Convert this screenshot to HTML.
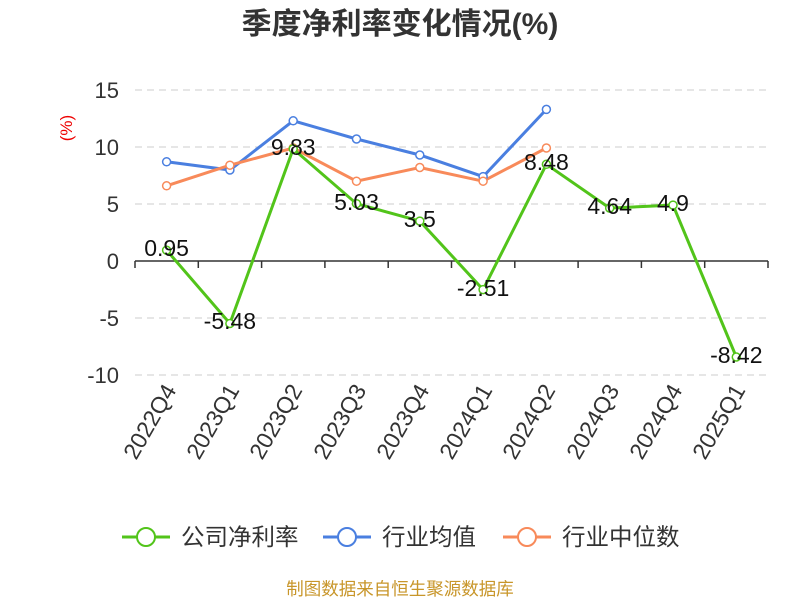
<!DOCTYPE html>
<html><head><meta charset="utf-8"><style>
body{margin:0;background:#fff;}
svg{display:block;font-family:"Liberation Sans","Noto Sans CJK SC",sans-serif;}
</style></head><body>
<svg width="800" height="600" viewBox="0 0 800 600">
<text x="400" y="34" text-anchor="middle" font-size="30" font-weight="bold" fill="#333">季度净利率变化情况(%)</text>
<text x="72" y="128" text-anchor="middle" font-size="17" fill="#e00" transform="rotate(-90 72 128)">(%)</text>
<g stroke="#ccc" stroke-dasharray="7,5" stroke-width="1">
<line x1="135" y1="90" x2="768" y2="90"/><line x1="135" y1="147" x2="768" y2="147"/>
<line x1="135" y1="204" x2="768" y2="204"/><line x1="135" y1="318" x2="768" y2="318"/>
<line x1="135" y1="375" x2="768" y2="375"/>
</g>
<line x1="135" y1="261" x2="768" y2="261" stroke="#333" stroke-width="1.5"/>
<g stroke="#333" stroke-width="1.5">
<line x1="135" y1="261" x2="135" y2="268"/><line x1="198.3" y1="261" x2="198.3" y2="268"/><line x1="261.6" y1="261" x2="261.6" y2="268"/><line x1="324.9" y1="261" x2="324.9" y2="268"/><line x1="388.2" y1="261" x2="388.2" y2="268"/><line x1="451.5" y1="261" x2="451.5" y2="268"/><line x1="514.8" y1="261" x2="514.8" y2="268"/><line x1="578.1" y1="261" x2="578.1" y2="268"/><line x1="641.4" y1="261" x2="641.4" y2="268"/><line x1="704.7" y1="261" x2="704.7" y2="268"/><line x1="768" y1="261" x2="768" y2="268"/>
</g>
<g font-size="22" fill="#333" text-anchor="end">
<text x="119" y="98">15</text><text x="119" y="155">10</text><text x="119" y="212">5</text><text x="119" y="269">0</text><text x="119" y="326">-5</text><text x="119" y="383">-10</text>
</g>
<g font-size="23" fill="#333" text-anchor="end">
<text transform="translate(177,390) rotate(-60)">2022Q4</text>
<text transform="translate(240,390) rotate(-60)">2023Q1</text>
<text transform="translate(303,390) rotate(-60)">2023Q2</text>
<text transform="translate(367,390) rotate(-60)">2023Q3</text>
<text transform="translate(430,390) rotate(-60)">2023Q4</text>
<text transform="translate(493,390) rotate(-60)">2024Q1</text>
<text transform="translate(556,390) rotate(-60)">2024Q2</text>
<text transform="translate(620,390) rotate(-60)">2024Q3</text>
<text transform="translate(683,390) rotate(-60)">2024Q4</text>
<text transform="translate(746,390) rotate(-60)">2025Q1</text>
</g>
<g fill="none" stroke-width="3">
<polyline stroke="#4a7fe0" points="166.6,161.8 229.9,170 293.2,120.8 356.5,139 419.8,155 483.1,176.6 546.4,109.4"/>
<polyline stroke="#f88a5a" points="166.6,185.8 229.9,165.2 293.2,148 356.5,181.2 419.8,167.5 483.1,181.2 546.4,148"/>
<polyline stroke="#52c41a" points="166.6,250.2 229.9,323.5 293.2,148.9 356.5,203.7 419.8,221.1 483.1,289.6 546.4,164.3 609.7,208.1 673,205.1 736.3,357"/>
</g>
<g fill="#fff" stroke-width="1.5">
<g stroke="#4a7fe0"><circle cx="166.6" cy="161.8" r="4"/><circle cx="229.9" cy="170" r="4"/><circle cx="293.2" cy="120.8" r="4"/><circle cx="356.5" cy="139" r="4"/><circle cx="419.8" cy="155" r="4"/><circle cx="483.1" cy="176.6" r="4"/><circle cx="546.4" cy="109.4" r="4"/></g>
<g stroke="#f88a5a"><circle cx="166.6" cy="185.8" r="4"/><circle cx="229.9" cy="165.2" r="4"/><circle cx="293.2" cy="148" r="4"/><circle cx="356.5" cy="181.2" r="4"/><circle cx="419.8" cy="167.5" r="4"/><circle cx="483.1" cy="181.2" r="4"/><circle cx="546.4" cy="148" r="4"/></g>
<g stroke="#52c41a"><circle cx="166.6" cy="250.2" r="4"/><circle cx="229.9" cy="323.5" r="4"/><circle cx="293.2" cy="148.9" r="4"/><circle cx="356.5" cy="203.7" r="4"/><circle cx="419.8" cy="221.1" r="4"/><circle cx="483.1" cy="289.6" r="4"/><circle cx="546.4" cy="164.3" r="4"/><circle cx="609.7" cy="208.1" r="4"/><circle cx="673" cy="205.1" r="4"/><circle cx="736.3" cy="357" r="4"/></g>
</g>
<g font-size="23" fill="#111" text-anchor="middle">
<text x="166.6" y="256">0.95</text><text x="229.9" y="329">-5.48</text><text x="293.2" y="155">9.83</text><text x="356.5" y="210">5.03</text><text x="419.8" y="227">3.5</text><text x="483.1" y="296">-2.51</text><text x="546.4" y="170">8.48</text><text x="609.7" y="214">4.64</text><text x="673" y="211">4.9</text><text x="736.3" y="363">-8.42</text>
</g>
<g font-size="23.5" fill="#333">
<line x1="122" y1="537" x2="170" y2="537" stroke="#52c41a" stroke-width="3"/><circle cx="146" cy="537" r="9" fill="#fff" stroke="#52c41a" stroke-width="2"/>
<text x="181" y="545">公司净利率</text>
<line x1="323" y1="537" x2="371" y2="537" stroke="#4a7fe0" stroke-width="3"/><circle cx="347" cy="537" r="9" fill="#fff" stroke="#4a7fe0" stroke-width="2"/>
<text x="382" y="545">行业均值</text>
<line x1="503" y1="537" x2="551" y2="537" stroke="#f88a5a" stroke-width="3"/><circle cx="527" cy="537" r="9" fill="#fff" stroke="#f88a5a" stroke-width="2"/>
<text x="562" y="545">行业中位数</text>
</g>
<text x="400" y="595" text-anchor="middle" font-size="17.5" fill="#c8962a">制图数据来自恒生聚源数据库</text>
</svg>
</body></html>
